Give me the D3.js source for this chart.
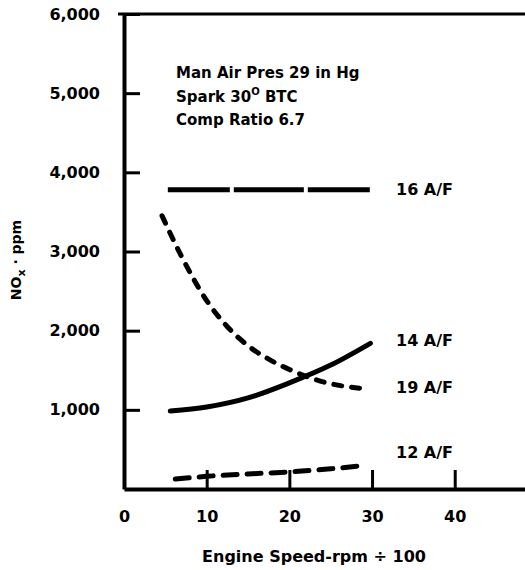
<!DOCTYPE html>
<html>
<head>
<meta charset="utf-8">
<script src="https://cdn.jsdelivr.net/npm/d3@7/dist/d3.min.js"></script>
<style>
  body { margin: 0; background: #fff; }
  text { font-family: "DejaVu Sans", sans-serif; font-weight: bold; fill: #000; }
</style>
</head>
<body>
<div class="svg-content"></div>
<script>
// values
const seriesNames = ["16 A/F", "14 A/F", "19 A/F", "12 A/F"];

const speed16 = [5.3, 30.2];
const nox16 = [3780, 3780];

const speed14 = [5.6, 10, 15, 20, 25, 29.8];
const nox14 = [985, 1035, 1150, 1340, 1565, 1840];

const speed19 = [4.6, 7, 10, 12.5, 15, 17.5, 20, 22.5, 25, 27.5, 29.6];
const nox19 = [3450, 2930, 2380, 2050, 1810, 1640, 1510, 1405, 1330, 1285, 1265];

const speed12 = [6.2, 10, 15, 20, 25, 29.3];
const nox12 = [125, 160, 190, 215, 255, 300];

const xTicks = [0, 10, 20, 30, 40];
const yTicks = [1000, 2000, 3000, 4000, 5000, 6000];

const notes = ["Man Air Pres 29 in Hg", "Spark 30", "Comp Ratio 6.7"];

const svgWidth = 525;
const svgHeight = 570;

let svg = d3.select(".svg-content")
            .append("svg")
            .attr("width", svgWidth)
            .attr("height", svgHeight);

const xScale = d3.scaleLinear()
                 .domain([0, 48.5])
                 .range([124, 525]);

const yScale = d3.scaleLinear()
                 .domain([0, 6000])
                 .range([489, 14]);

const xAxis = d3.axisBottom(xScale)
                .tickValues(xTicks)
                .tickFormat(d3.format("d"))
                .tickSizeInner(-19)
                .tickSizeOuter(0)
                .tickPadding(22);

const yAxis = d3.axisLeft(yScale)
                .tickValues(yTicks)
                .tickFormat(d3.format(","))
                .tickSizeInner(-16)
                .tickSizeOuter(0)
                .tickPadding(24);

let gx = svg.append("g")
            .attr("transform", "translate(0," + yScale(0) + ")")
            .call(xAxis);

let gy = svg.append("g")
            .attr("transform", "translate(" + xScale(0) + ",0)")
            .call(yAxis);

[gx, gy].forEach(g => {
  g.select(".domain").attr("stroke", "#000").attr("stroke-width", 4);
  g.selectAll(".tick line").attr("stroke", "#000").attr("stroke-width", 3);
  g.selectAll(".tick text")
   .style("font-family", "'DejaVu Sans', sans-serif")
   .style("font-weight", "bold")
   .style("font-size", "16px")
   .attr("fill", "#000");
});

// top border of the plot
svg.append("line")
   .attr("x1", xScale(0) - 6)
   .attr("x2", svgWidth)
   .attr("y1", yScale(6000))
   .attr("y2", yScale(6000))
   .attr("stroke", "#000")
   .attr("stroke-width", 3);

const line = d3.line()
               .x(d => xScale(d[0]))
               .y(d => yScale(d[1]))
               .curve(d3.curveMonotoneX);

const series = [
  { name: seriesNames[0], x: speed16, y: nox16, dash: "62,4,70,4", cap: "butt", dy: 5 },
  { name: seriesNames[1], x: speed14, y: nox14, dash: null, cap: "round", dy: 3 },
  { name: seriesNames[2], x: speed19, y: nox19, dash: "8,10", cap: "round", dy: 4 },
  { name: seriesNames[3], x: speed12, y: nox12, dash: "14,10", cap: "round", dy: -7 }
];

series.forEach(s => {
  const pts = s.x.map((v, i) => [v, s.y[i]]);

  svg.append("path")
     .datum(pts)
     .attr("d", line)
     .attr("fill", "none")
     .attr("stroke", "#000")
     .attr("stroke-width", 5)
     .attr("stroke-linecap", s.cap)
     .attr("stroke-dasharray", s.dash);

  svg.append("text")
     .attr("x", xScale(32.9))
     .attr("y", yScale(s.y[s.y.length - 1]) + s.dy)
     .style("font-size", "16px")
     .text(s.name);
});

// conditions note
let note = svg.append("text")
              .attr("x", 176)
              .attr("y", 78)
              .style("font-size", "15px");

note.append("tspan")
    .attr("x", 176)
    .text(notes[0]);

let spark = note.append("tspan")
                .attr("x", 176)
                .attr("dy", 24)
                .text(notes[1]);

note.append("tspan")
    .attr("dy", -7)
    .style("font-size", "10px")
    .text("O");

note.append("tspan")
    .attr("dy", 7)
    .text(" BTC");

note.append("tspan")
    .attr("x", 176)
    .attr("dy", 23)
    .text(notes[2]);

// axis titles
svg.append("text")
   .attr("x", 314)
   .attr("y", 562)
   .attr("text-anchor", "middle")
   .style("font-size", "16px")
   .text("Engine Speed-rpm \u00f7 100");

let yTitle = svg.append("text")
                .attr("transform", "translate(21,260) rotate(-90)")
                .attr("text-anchor", "middle")
                .style("font-size", "14px");

yTitle.append("tspan").text("NO");
yTitle.append("tspan")
      .attr("dy", 4)
      .style("font-size", "11px")
      .text("x");
yTitle.append("tspan")
      .attr("dy", -4)
      .text(" \u00b7 ppm");
</script>
</body>
</html>
